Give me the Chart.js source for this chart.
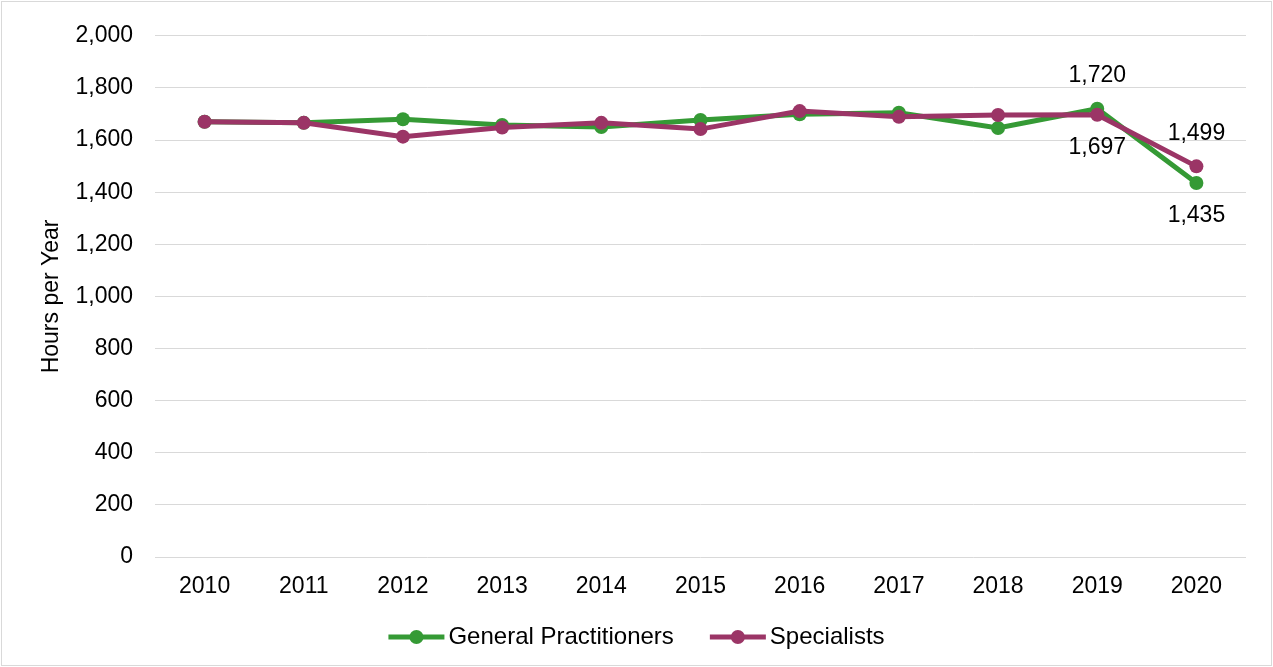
<!DOCTYPE html>
<html><head><meta charset="utf-8">
<script src="https://cdn.jsdelivr.net/npm/chart.js@4"></script>
<style>html,body{margin:0;padding:0;background:#fff}#wrap{width:1273px;height:667px;position:relative}</style>
</head><body><div id="wrap"><canvas id="c" width="1273" height="667"></canvas></div>
<script>
const years = ['2010','2011','2012','2013','2014','2015','2016','2017','2018','2019','2020'];
const gpHours = [1670, 1666, 1680, 1658, 1650, 1677, 1699, 1705, 1646, 1720, 1435];
const specialistHours = [1670, 1666, 1613, 1648, 1666, 1642, 1711, 1689, 1696, 1697, 1499];
const seriesNames = ['General Practitioners', 'Specialists'];
const yTickValues = [0, 200, 400, 600, 800, 1000, 1200, 1400, 1600, 1800, 2000];
const axisTitle = 'Hours per Year';
// which points carry a value label, and on which side
const gpLabelSides = {9: 'above', 10: 'below'};
const specialistLabelSides = {9: 'below', 10: 'above'};

const GREEN = '#359a35';
const PURPLE = '#9b3566';
const FONT = '"Liberation Sans", Arial, sans-serif';
const FS = 23;
const LEGEND_FS = 24;

const fmt = v => Number(v).toLocaleString('en-US');

const framePlugin = {
  id: 'frame',
  beforeDraw(chart) {
    const c = chart.ctx;
    c.save(); c.fillStyle = '#fff'; c.fillRect(0, 0, chart.width, chart.height); c.restore();
  },
  afterDraw(chart) {
    const c = chart.ctx;
    c.save(); c.strokeStyle = '#d9d9d9'; c.lineWidth = 1;
    c.strokeRect(1.5, 1.5, chart.width - 3, chart.height - 3); c.restore();
  }
};

const valueLabelPlugin = {
  id: 'valueLabels',
  afterDatasetsDraw(chart) {
    const c = chart.ctx;
    c.save();
    c.font = FS + 'px ' + FONT;
    c.fillStyle = '#000';
    c.textAlign = 'center';
    c.textBaseline = 'middle';
    chart.data.datasets.forEach((ds, di) => {
      const sides = ds.labelSides || {};
      const meta = chart.getDatasetMeta(di);
      Object.keys(sides).forEach(k => {
        const el = meta.data[+k];
        if (!el) return;
        const dy = sides[k] === 'above' ? -33 : 33;
        c.fillText(fmt(ds.data[+k]), el.x, el.y + dy);
      });
    });
    c.restore();
  }
};

const legendPlugin = {
  id: 'customLegend',
  afterDraw(chart) {
    const c = chart.ctx;
    c.save();
    c.font = LEGEND_FS + 'px ' + FONT;
    c.textBaseline = 'middle';
    const items = chart.data.datasets.slice().sort((a, b) => a.legendIndex - b.legendIndex);
    const markW = 56, gapText = 4, gapItem = 36;
    const widths = items.map(d => markW + gapText + c.measureText(d.label).width);
    const total = widths.reduce((a, b) => a + b, 0) + gapItem * (items.length - 1);
    let x = chart.width / 2 - total / 2;
    const y = 637;
    items.forEach((d, i) => {
      c.strokeStyle = d.borderColor; c.lineWidth = 5; c.lineCap = 'butt';
      c.beginPath(); c.moveTo(x, y); c.lineTo(x + markW, y); c.stroke();
      c.fillStyle = d.borderColor;
      c.beginPath(); c.arc(x + markW / 2, y, 7, 0, Math.PI * 2); c.fill();
      c.fillStyle = '#000';
      c.fillText(d.label, x + markW + gapText, y);
      x += widths[i] + gapItem;
    });
    c.restore();
  }
};

new Chart(document.getElementById('c'), {
  type: 'line',
  data: {
    labels: years,
    datasets: [
      {
        label: seriesNames[0], data: gpHours, legendIndex: 0, labelSides: gpLabelSides,
        borderColor: GREEN, backgroundColor: GREEN, pointBackgroundColor: GREEN,
        borderWidth: 5, pointRadius: 7, pointBorderWidth: 0, tension: 0, order: 1
      },
      {
        label: seriesNames[1], data: specialistHours, legendIndex: 1, labelSides: specialistLabelSides,
        borderColor: PURPLE, backgroundColor: PURPLE, pointBackgroundColor: PURPLE,
        borderWidth: 5, pointRadius: 7, pointBorderWidth: 0, tension: 0, order: 0
      }
    ]
  },
  options: {
    responsive: false,
    animation: false,
    devicePixelRatio: 1,
    layout: { padding: { top: 31, right: 27, left: 0, bottom: 0 } },
    plugins: { legend: { display: false }, tooltip: { enabled: false } },
    scales: {
      x: {
        offset: true,
        grid: { display: false, drawTicks: false },
        border: { display: false },
        ticks: { color: '#000', font: { family: FONT, size: FS }, padding: 16, maxRotation: 0 },
        afterFit(s) { s.height = 110; }
      },
      y: {
        min: 0, max: 2000,
        afterBuildTicks(s) { s.ticks = yTickValues.map(v => ({ value: v })); },
        grid: { color: '#d9d9d9', lineWidth: 1, drawTicks: false },
        border: { display: false },
        ticks: { color: '#000', font: { family: FONT, size: FS }, padding: 22, callback: v => fmt(v) },
        title: { display: true, text: axisTitle, color: '#000', font: { family: FONT, size: FS }, padding: { top: 38, bottom: 0 } },
        afterFit(s) { s.width = 155; }
      }
    }
  },
  plugins: [framePlugin, valueLabelPlugin, legendPlugin]
});
</script>
</body></html>
